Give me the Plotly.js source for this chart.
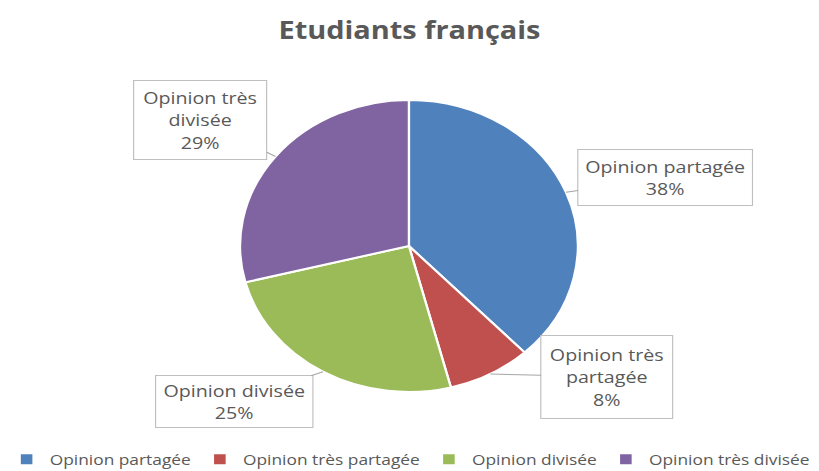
<!DOCTYPE html>
<html>
<head>
<meta charset="utf-8">
<script src="https://cdn.plot.ly/plotly-3.0.1.min.js"></script>
<style>
  html, body { margin: 0; padding: 0; background: #fff; overflow: hidden; }
  #chart { width: 708px; height: 471px; transform: scaleX(1.15678); transform-origin: 0 0; }
</style>
</head>
<body>
<div id="chart"></div>
<script>
const categories = ["Opinion partagée", "Opinion très partagée", "Opinion divisée", "Opinion très divisée"];
const values = [38, 8, 25, 29];
const calloutText = ["Opinion partagée", "Opinion très<br>partagée", "Opinion divisée", "Opinion très<br>divisée"];
const colors = ["#4F81BD", "#C0504D", "#9BBB59", "#8064A2"];

const W = 708, H = 471;
const cx = 353.5, cy = 246, R = 146;
const domX = [(cx - R) / W, (cx + R) / W];
const domY = [(H - cy - R) / H, (H - cy + R) / H];

// callout box placement (offsets in px from slice edge midpoint) and sizes
const boxOff = [[86, -15], [101, 3], [-77, 30], [-65, -37]];
const boxSize = [[150, 55], [113, 82], [135, 51], [114, 78]];

const total = values.reduce((a, b) => a + b, 0);
let cum = 0;
const annotations = values.map((v, i) => {
  const mid = (cum + v / 2) / total * 2 * Math.PI;
  cum += v;
  const px = cx + R * Math.sin(mid);
  const py = cy - R * Math.cos(mid);
  return {
    xref: 'paper', yref: 'paper',
    x: px / W, y: 1 - py / H,
    ax: boxOff[i][0], ay: boxOff[i][1],
    axref: 'pixel', ayref: 'pixel',
    text: calloutText[i] + '<br>' + Math.round(v / total * 100) + '%',
    showarrow: true, arrowhead: 0, arrowwidth: 1, arrowcolor: '#A6A6A6',
    bgcolor: '#FFFFFF', bordercolor: '#BFBFBF', borderwidth: 1,
    width: boxSize[i][0] - 2, height: boxSize[i][1] - 2,
    font: { family: 'Open Sans, sans-serif', size: 17, color: '#595959' },
    align: 'center'
  };
});

const trace = {
  type: 'pie',
  labels: categories,
  values: values,
  sort: false,
  direction: 'clockwise',
  rotation: 0,
  textinfo: 'none',
  marker: { colors: colors, line: { color: '#FFFFFF', width: 2 } },
  domain: { x: domX, y: domY },
  hoverinfo: 'label+percent'
};

const layout = {
  width: W, height: H,
  margin: { l: 0, r: 0, t: 0, b: 0, autoexpand: false },
  paper_bgcolor: '#FFFFFF',
  title: {
    text: 'Etudiants français',
    x: 0.5, xanchor: 'center',
    y: 1 - 30 / H, yanchor: 'middle', yref: 'container',
    font: { family: 'Open Sans, sans-serif', size: 25, color: '#595959', weight: 'bold' }
  },
  showlegend: true,
  legend: {
    orientation: 'h', x: 0.5, xanchor: 'center', y: -0.0106, yanchor: 'bottom',
    font: { family: 'Open Sans, sans-serif', size: 15, color: '#595959' },
    traceorder: 'normal', itemwidth: 30
  },
  annotations: annotations
};

Plotly.newPlot('chart', [trace], layout, { displayModeBar: false, staticPlot: true });
</script>
</body>
</html>
